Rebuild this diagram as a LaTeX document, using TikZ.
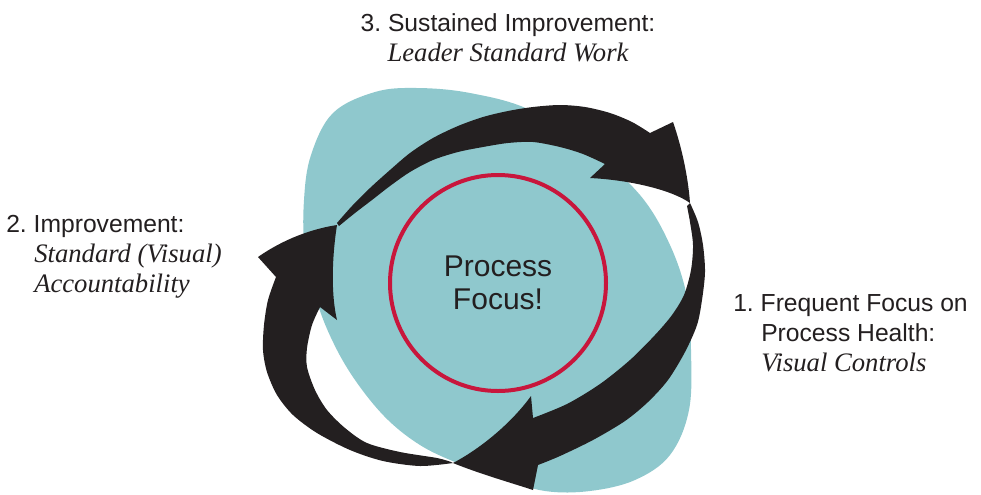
\documentclass[tikz,border=0pt]{standalone}
\usepackage{fontspec}
\setmainfont{Liberation Serif}
\setsansfont{Liberation Sans}
\usetikzlibrary{positioning}
\frenchspacing

\definecolor{blobteal}{RGB}{143,200,205}
\definecolor{ringred}{RGB}{200,22,60}
\definecolor{arrowblack}{RGB}{35,31,32}

\newcommand{\itline}[1]{{\rmfamily\itshape\fontsize{20}{22.5}\selectfont #1}}

\begin{document}
\begin{tikzpicture}[x=0.75pt,y=0.75pt,yscale=-1,xscale=1,
		steplabel/.style={inner sep=0pt, text=arrowblack, font=\sffamily\fontsize{18.5}{22.5}\selectfont},
		focusring/.style={circle, draw=ringred, line width=3pt, minimum size=162pt, inner sep=0pt, align=center,
			text=arrowblack, font=\sffamily\fontsize{22.5}{24.75}\selectfont},
		cyclearrow/.style={fill=arrowblack}]
		% Set diagram size to 981 x 494
		\useasboundingbox (0,0) rectangle (981,494);

		% Draw the teal blob behind everything
		\fill[blobteal] plot[smooth cycle, tension=0.6] coordinates {(417,88) (470,93) (530,110) (590,150) (640,195) (670,245)
			(687,297) (691,350) (689,410) (670,455) (635,480) (590,491) (545,491) (500,478) (455,462) (420,445) (388,420)
			(360,387) (337,350) (318,305) (305,250) (304,200) (311,155) (333,113) (375,92)};

		% The red ring with the text in the middle
		\node[focusring] (focus) at (498,283) {Process\\Focus!};

		% Draw the top arrow (step 3), thin tail on the left, head on the right
		\fill[cyclearrow] plot[smooth] coordinates {(337,223) (352,206) (370,188) (390,170) (410,153) (433,138) (458,126)
				(483,117) (508,111) (533,107) (560,105) (585,107) (610,113) (632,122) (650,133)}
			-- (673,122) .. controls (681,145) and (688,175) .. (690,203)
			.. controls (672,190) and (630,180) .. (590,178)
			-- plot[smooth] coordinates {(605,164) (583,154) (560,147) (533,142) (508,143) (483,147) (458,152) (433,160)
				(410,172) (390,186) (372,200) (355,213) (339,226)} -- cycle;

		% Draw the right arrow (step 1), going down to the bottom
		\fill[cyclearrow] plot[smooth] coordinates {(690,203) (698,222) (703,245) (705,272) (702,300) (697,325) (685,352)
				(668,380) (648,402) (625,421) (593,440) (560,456) (538,465)}
			-- (533,490) .. controls (515,484) and (480,474) .. (453,463)
			.. controls (478,450) and (510,425) .. (531,396)
			-- plot[smooth] coordinates {(533,418) (567,404) (600,384) (630,360) (655,335) (672,315) (684,295) (691,270)
				(693,245) (690,222) (687,206)} -- cycle;

		% Draw the left arrow (step 2), going up on the left side
		\fill[cyclearrow] plot[smooth] coordinates {(453,463) (420,466) (383,461) (350,450) (317,433) (293,415) (277,395)
				(267,372) (263,350) (264,325) (268,300) (276,277)}
			-- (258,257) .. controls (278,243) and (305,230) .. (337,225)
			.. controls (333,250) and (330,290) .. (337,320)
			-- plot[smooth] coordinates {(320,307) (312,325) (307,348) (307,367) (315,390) (327,410) (345,428) (367,443)
				(400,452) (437,458) (451,462)} -- cycle;

		% The three step labels
		\node[steplabel, anchor=north, align=center] (sustain) at (508,13) {3. Sustained Improvement:\\\itline{Leader Standard Work}};
		\node[steplabel, anchor=north west, align=left] (improve) at (6,215) {2. Improvement:\\\hspace*{21pt}\itline{Standard (Visual)}\\\hspace*{21pt}\itline{Accountability}};
		\node[steplabel, anchor=north west, align=left] (frequent) at (733,294) {1. Frequent Focus on\\\hspace*{21pt}Process Health:\\\hspace*{21pt}\itline{Visual Controls}};
	\end{tikzpicture}
\end{document}
